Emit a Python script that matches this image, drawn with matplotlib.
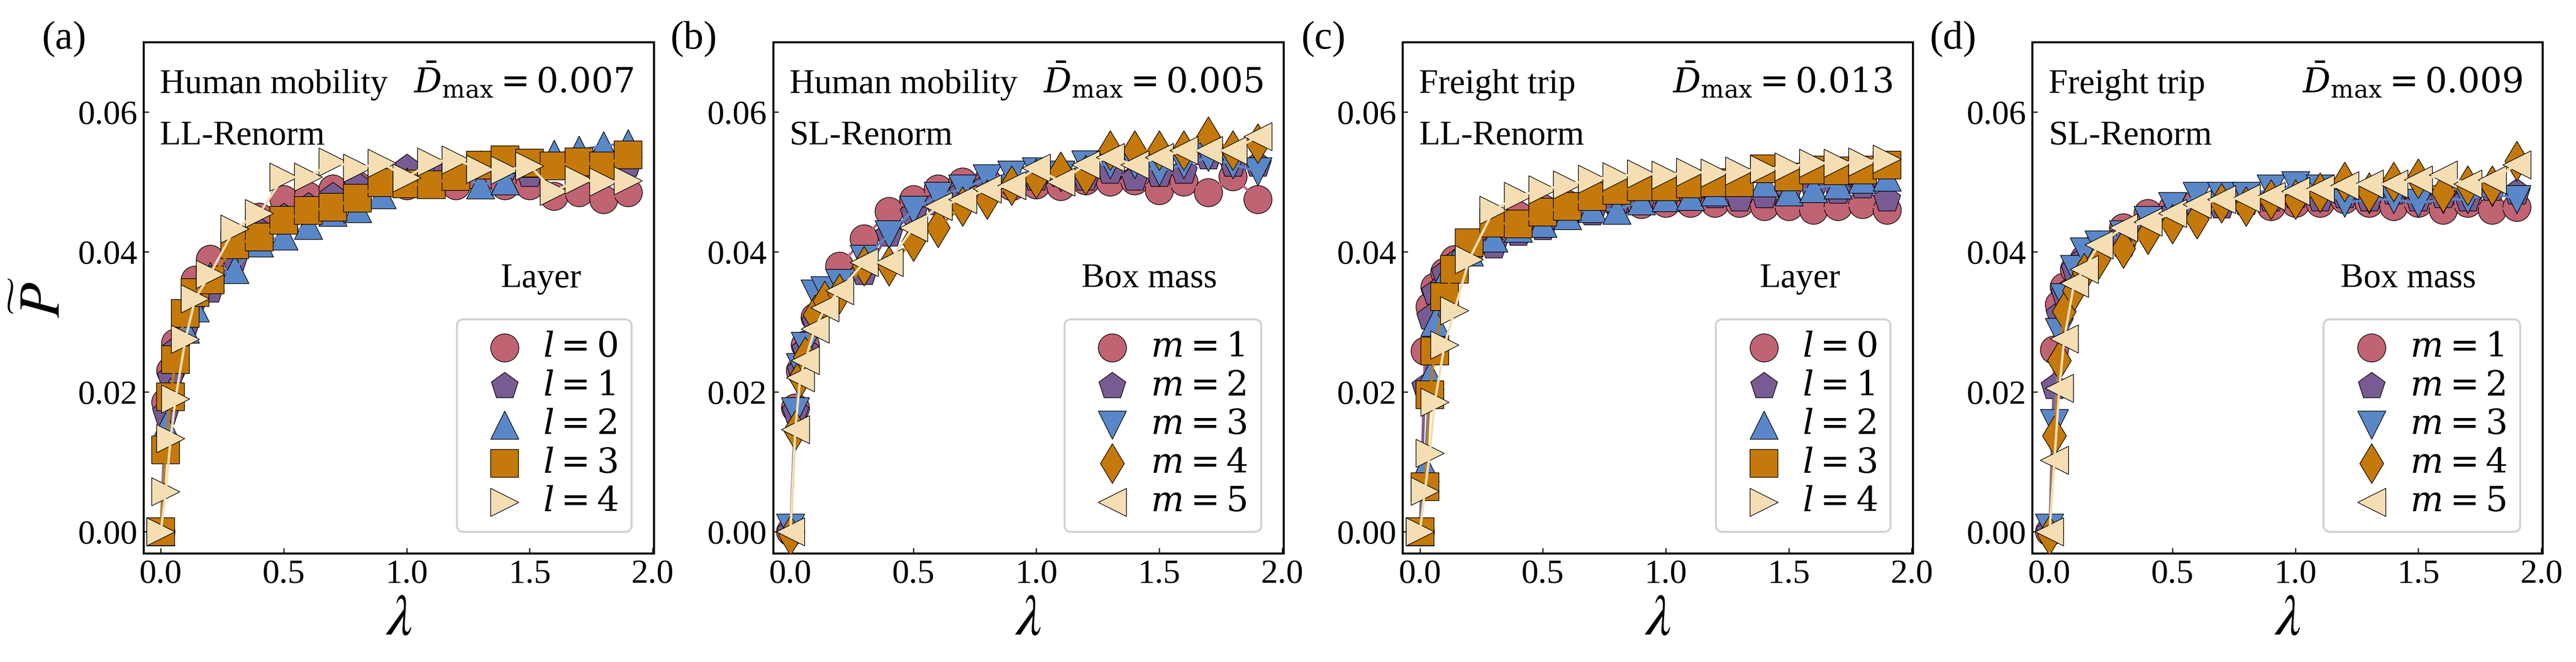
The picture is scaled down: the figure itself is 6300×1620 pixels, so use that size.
import matplotlib
matplotlib.use('Agg')
import matplotlib.pyplot as plt

plt.rcParams['font.family'] = ['Liberation Serif', 'DejaVu Serif']
plt.rcParams['mathtext.fontset'] = 'dejavuserif'
plt.rcParams['axes.linewidth'] = 1.2

# lambda grid (x values)
lam = [0.0, 0.02, 0.04, 0.06, 0.1, 0.14, 0.2, 0.3, 0.4, 0.5, 0.6, 0.7,
       0.8, 0.9, 1.0, 1.1, 1.2, 1.3, 1.4, 1.5, 1.6, 1.7, 1.8, 1.9]

# (a) Human mobility, LL-Renorm
a_l0 = [0, 0.0185, 0.023, 0.027, 0.031, 0.036, 0.039, 0.0415, 0.045, 0.0475, 0.048, 0.049,
        0.0495, 0.0495, 0.0495, 0.050, 0.0495, 0.0505, 0.0495, 0.0495, 0.048, 0.0485, 0.0475, 0.0485]
a_l1 = [0, 0.017, 0.022, 0.026, 0.029, 0.0335, 0.0345, 0.039, 0.043, 0.045, 0.0465, 0.048,
        0.0495, 0.050, 0.052, 0.0515, 0.051, 0.0525, 0.052, 0.051, 0.0525, 0.052, 0.0535, 0.0525]
a_l2 = [0, 0.015, 0.020, 0.025, 0.029, 0.032, 0.0365, 0.0375, 0.0413, 0.0423, 0.0438, 0.0457,
        0.0462, 0.0482, 0.050, 0.0505, 0.051, 0.0496, 0.0502, 0.0527, 0.054, 0.0546, 0.0552, 0.0555]
a_l3 = [0, 0.0117, 0.0193, 0.0246, 0.0312, 0.0342, 0.036, 0.041, 0.0421, 0.0445, 0.0459, 0.0464,
        0.0477, 0.0499, 0.0497, 0.0496, 0.0508, 0.0524, 0.0532, 0.0527, 0.0523, 0.0529, 0.0523, 0.0539]
a_l4 = [0, 0.0057, 0.0133, 0.019, 0.0275, 0.0333, 0.0368, 0.0433, 0.0455, 0.0507, 0.0507, 0.0529,
        0.052, 0.0527, 0.0506, 0.0529, 0.0532, 0.0518, 0.0517, 0.0523, 0.0487, 0.0503, 0.05, 0.0502]

# (b) Human mobility, SL-Renorm
b_m1 = [0, 0.0177, 0.023, 0.0267, 0.0307, 0.0344, 0.038, 0.0419, 0.0458, 0.0475, 0.049, 0.05,
        0.05, 0.0494, 0.0496, 0.0494, 0.0502, 0.05, 0.0502, 0.0488, 0.05, 0.0485, 0.0508, 0.0475]
b_m2 = [0, 0.0172, 0.023, 0.026, 0.030, 0.034, 0.0355, 0.037, 0.0425, 0.0455, 0.047, 0.0485,
        0.0495, 0.050, 0.0505, 0.051, 0.0505, 0.0515, 0.0505, 0.051, 0.0515, 0.0535, 0.0525, 0.0525]
b_m3 = [0.0005, 0.0172, 0.0235, 0.0265, 0.034, 0.0345, 0.0355, 0.039, 0.0425, 0.046, 0.048, 0.049,
        0.0505, 0.051, 0.0515, 0.051, 0.0525, 0.0525, 0.0525, 0.0515, 0.0525, 0.0535, 0.0525, 0.0515]
b_m4 = [-0.0005, 0.0145, 0.022, 0.025, 0.031, 0.033, 0.034, 0.038, 0.038, 0.0415, 0.0435, 0.0465,
        0.0475, 0.0495, 0.0505, 0.0515, 0.051, 0.0545, 0.0545, 0.0545, 0.0545, 0.0565, 0.0545, 0.0555]
b_m5 = [0, 0.0146, 0.022, 0.0245, 0.029, 0.032, 0.0345, 0.0385, 0.0385, 0.0435, 0.0465, 0.0475,
        0.049, 0.0495, 0.052, 0.050, 0.0525, 0.0535, 0.0525, 0.0535, 0.0545, 0.0545, 0.0545, 0.0565]

# (c) Freight trip, LL-Renorm
c_l0 = [0, 0.0258, 0.0322, 0.035, 0.0371, 0.0389, 0.040, 0.042, 0.0452, 0.0462, 0.0468, 0.0468,
        0.047, 0.0468, 0.047, 0.047, 0.047, 0.047, 0.0465, 0.0465, 0.046, 0.0465, 0.0468, 0.046]
c_l1 = [0, 0.0207, 0.0306, 0.0342, 0.0369, 0.0384, 0.040, 0.0408, 0.0426, 0.0434, 0.0449, 0.0455,
        0.0468, 0.047, 0.0475, 0.048, 0.048, 0.0475, 0.048, 0.0488, 0.0491, 0.0486, 0.0494, 0.0475]
c_l2 = [0, 0.0092, 0.0223, 0.030, 0.0363, 0.0384, 0.040, 0.042, 0.0434, 0.0441, 0.0452, 0.0462,
        0.046, 0.0473, 0.0478, 0.048, 0.0486, 0.0504, 0.0499, 0.0486, 0.0491, 0.0496, 0.0504, 0.0507]
c_l3 = [0, 0.0064, 0.0196, 0.0258, 0.0336, 0.0375, 0.0413, 0.0441, 0.044, 0.0457, 0.0465, 0.0479,
        0.0488, 0.0493, 0.0493, 0.0497, 0.0499, 0.0499, 0.0519, 0.0507, 0.0517, 0.0516, 0.0517, 0.0524]
c_l4 = [0, 0.0058, 0.0112, 0.0185, 0.0267, 0.0316, 0.0389, 0.046, 0.048, 0.0489, 0.0496, 0.0504,
        0.0508, 0.0512, 0.051, 0.0514, 0.0513, 0.0516, 0.0518, 0.0522, 0.0527, 0.0527, 0.0529, 0.0533]

# (d) Freight trip, SL-Renorm
d_m1 = [0, 0.026, 0.0325, 0.035, 0.0375, 0.039, 0.041, 0.0435, 0.0455, 0.0462, 0.047, 0.0475,
        0.0475, 0.0465, 0.047, 0.047, 0.0475, 0.047, 0.0465, 0.047, 0.046, 0.047, 0.046, 0.0464]
d_m2 = [0, 0.0207, 0.031, 0.034, 0.0375, 0.039, 0.040, 0.041, 0.0435, 0.0455, 0.0465, 0.0465,
        0.047, 0.0475, 0.048, 0.0475, 0.048, 0.0475, 0.0485, 0.0475, 0.048, 0.0475, 0.049, 0.0485]
d_m3 = [0.0005, 0.0155, 0.0285, 0.0335, 0.0375, 0.040, 0.041, 0.0425, 0.0445, 0.0465, 0.048, 0.048,
        0.048, 0.049, 0.0495, 0.049, 0.047, 0.0475, 0.0475, 0.047, 0.0475, 0.0475, 0.0485, 0.0475]
d_m4 = [-0.0005, 0.0137, 0.0245, 0.0315, 0.0345, 0.037, 0.039, 0.0405, 0.0425, 0.044, 0.0447, 0.047,
        0.0465, 0.0475, 0.0475, 0.0485, 0.050, 0.0485, 0.050, 0.0505, 0.0485, 0.0495, 0.0495, 0.053]
d_m5 = [0, 0.0102, 0.0205, 0.0276, 0.0355, 0.0375, 0.041, 0.0435, 0.0443, 0.0455, 0.0468, 0.0475,
        0.0477, 0.048, 0.0487, 0.049, 0.0495, 0.0497, 0.0497, 0.0503, 0.051, 0.0497, 0.0503, 0.0525]

colors = ['#C06373', '#795B93', '#5A87C8', '#C4790A', '#F5DEB3']
layer_markers = ['o', 'p', '^', 's', '>']
mass_markers = ['o', 'p', 'v', 'd', '<']

panels = [
    ('(a)', 'Human mobility', 'LL-Renorm', '0.007', 'Layer', 'l', [0, 1, 2, 3, 4],
     layer_markers, [a_l0, a_l1, a_l2, a_l3, a_l4]),
    ('(b)', 'Human mobility', 'SL-Renorm', '0.005', 'Box mass', 'm', [1, 2, 3, 4, 5],
     mass_markers, [b_m1, b_m2, b_m3, b_m4, b_m5]),
    ('(c)', 'Freight trip', 'LL-Renorm', '0.013', 'Layer', 'l', [0, 1, 2, 3, 4],
     layer_markers, [c_l0, c_l1, c_l2, c_l3, c_l4]),
    ('(d)', 'Freight trip', 'SL-Renorm', '0.009', 'Box mass', 'm', [1, 2, 3, 4, 5],
     mass_markers, [d_m1, d_m2, d_m3, d_m4, d_m5]),
]

fig = plt.figure(figsize=(21, 5.4), dpi=300)

left0, step, width = 0.0557, 0.2444, 0.1981
bottom, height = 0.1642, 0.7722

for i, (tag, dataset, method, dmax, legtitle, sym, levels, markers, series) in enumerate(panels):
    ax = fig.add_axes([left0 + i * step, bottom, width, height])

    # each series: markers, then its line on top; later series sit above earlier ones
    for k, (y, c, mk, lv) in enumerate(zip(series, colors, markers, levels)):
        ax.scatter(lam, y, s=272, marker=mk, color=c, edgecolors='black',
                   linewidths=0.4, label=r'$%s = %d$' % (sym, lv), zorder=2 * k + 1)
        ax.plot(lam, y, color=c, lw=1.4, zorder=2 * k + 2)

    ax.set_xlim(-0.0704, 2.005)
    ax.set_ylim(-0.0031, 0.07)
    ax.set_xticks([0.0, 0.5, 1.0, 1.5, 2.0])
    ax.set_yticks([0.0, 0.02, 0.04, 0.06])
    ax.tick_params(direction='in', length=3.1, width=0.65, labelsize=20)

    ax.set_xlabel(r'$\lambda$', fontsize=34, math_fontfamily='stix', labelpad=2.5)
    if i == 0:
        ax.set_ylabel(r'$\widetilde{P}$', fontsize=34, math_fontfamily='stix', labelpad=3.5)

    ax.text(-0.155, 1.006, tag, transform=ax.transAxes, fontsize=23.5,
            ha='center', va='center')
    ax.text(0.032, 0.900, dataset, transform=ax.transAxes, fontsize=20.3,
            ha='left', va='baseline')
    ax.text(0.032, 0.799, method, transform=ax.transAxes, fontsize=20.3,
            ha='left', va='baseline')
    ax.text(0.960, 0.900, r'$\bar{D}_{\max} = %s$' % dmax, transform=ax.transAxes,
            fontsize=20.3, ha='right', va='baseline')
    tx = 0.779 if legtitle == 'Layer' else 0.737
    ax.text(tx, 0.52, legtitle, transform=ax.transAxes, fontsize=20.3,
            ha='center', va='baseline')

    leg = ax.legend(loc='lower right', bbox_to_anchor=(0.956, 0.042), fontsize=20.5,
                    frameon=True, fancybox=True, framealpha=1.0, edgecolor='#d3d3d3',
                    handlelength=2.0, handletextpad=0.1, labelspacing=0.195,
                    borderpad=0.38, borderaxespad=0.0)
    leg.get_frame().set_linewidth(1.2)

fig.savefig('out.png', dpi=300)
